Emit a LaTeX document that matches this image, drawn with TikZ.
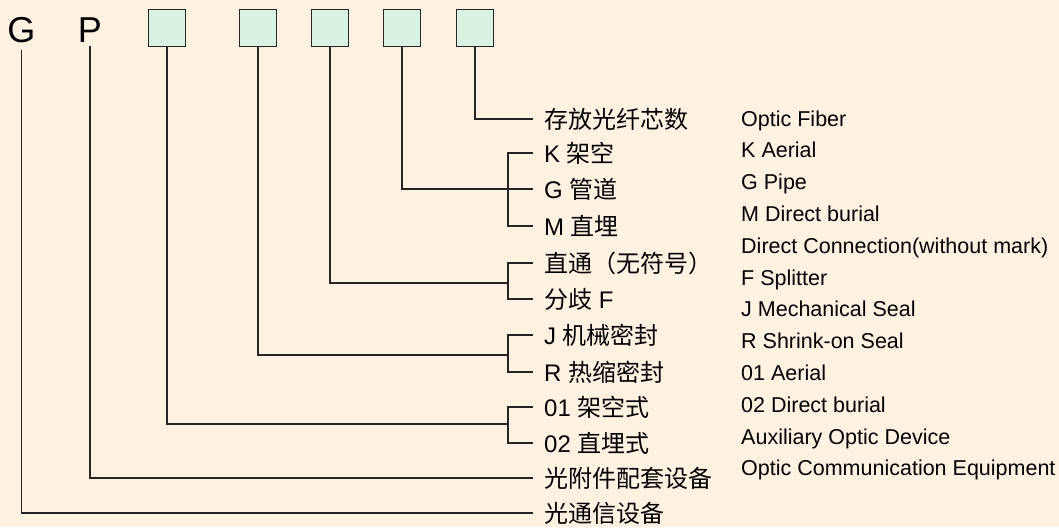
\documentclass[tikz,border=0pt]{standalone}
\usepackage{fontspec}
\setmainfont{Liberation Sans}
\newfontfamily\cjk{Noto Sans CJK SC}
\definecolor{cream}{HTML}{FFF2E1}
\definecolor{mint}{HTML}{DAF2E2}
\definecolor{ink}{HTML}{262626}

\begin{document}
\begin{tikzpicture}[
  x=1pt,y=-1pt,
  letter/.style={inner xsep=0pt,inner ysep=4pt,anchor=base,font=\fontsize{36}{40}\selectfont},
  codebox/.style={draw=ink,fill=mint,line width=1.2pt,minimum size=36.5pt,inner sep=0pt},
  cnlabel/.style={anchor=west,inner xsep=11pt,inner ysep=0pt,text height=21pt,text depth=3pt,font=\fontsize{24}{28}\selectfont},
  enlabel/.style={anchor=base west,inner sep=0pt,font=\fontsize{21.5}{26}\selectfont},
  link/.style={draw=ink,line width=1.3pt}
]
\useasboundingbox (0,0) rectangle (1059,527);
\fill[cream] (0,0) rectangle (1059,527);

% code letters and boxes
\node[letter] (G) at (21.5,42) {G};
\node[letter] (P) at (90,42) {P};
\node[codebox] (b1) at (167,28) {};
\node[codebox] (b2) at (258,28) {};
\node[codebox] (b3) at (330,28) {};
\node[codebox] (b4) at (402,28) {};
\node[codebox] (b5) at (475,28) {};

% chinese labels
\node[cnlabel] (fiber) at (533,119) {\cjk 存放光纤芯数};
\node[cnlabel] (kaer) at (533,153) {K {\cjk 架空}};
\node[cnlabel] (gpipe) at (533,189) {G {\cjk 管道}};
\node[cnlabel] (mbur) at (533,226) {M {\cjk 直埋}};
\node[cnlabel] (direct) at (533,263) {\cjk 直通（无符号）};
\node[cnlabel] (split) at (533,299) {{\cjk 分歧} F};
\node[cnlabel] (jseal) at (533,335) {J {\cjk 机械密封}};
\node[cnlabel] (rseal) at (533,372) {R {\cjk 热缩密封}};
\node[cnlabel] (aer01) at (533,407) {01 {\cjk 架空式}};
\node[cnlabel] (bur02) at (533,443) {02 {\cjk 直埋式}};
\node[cnlabel] (aux) at (533,478) {\cjk 光附件配套设备};
\node[cnlabel] (comm) at (533,513) {\cjk 光通信设备};

% english labels
\node[enlabel] (en1) at (741,126) {Optic Fiber};
\node[enlabel] (en2) at (741,157.8) {K Aerial};
\node[enlabel] (en3) at (741,189.6) {G Pipe};
\node[enlabel] (en4) at (741,221.4) {M Direct burial};
\node[enlabel] (en5) at (741,253.2) {Direct Connection(without mark)};
\node[enlabel] (en6) at (741,285) {F Splitter};
\node[enlabel] (en7) at (741,316.8) {J Mechanical Seal};
\node[enlabel] (en8) at (741,348.6) {R Shrink-on Seal};
\node[enlabel] (en9) at (741,380.4) {01 Aerial};
\node[enlabel] (en10) at (741,412.2) {02 Direct burial};
\node[enlabel] (en11) at (741,444) {Auxiliary Optic Device};
\node[enlabel] (en12) at (741,475.8) {Optic Communication Equipment};

% bracket joints
\coordinate (j4) at (508,189);
\coordinate (j3) at (508,283);
\coordinate (j2) at (508,355);
\coordinate (j1) at (508,424);

\draw[link] (b5.south) |- (fiber.west);
\draw[link] (b4.south) |- (gpipe.west);
\draw[link] (kaer.west) -| (j4) |- (mbur.west);
\draw[link] (b3.south) |- (j3);
\draw[link] (direct.west) -| (j3) |- (split.west);
\draw[link] (b2.south) |- (j2);
\draw[link] (jseal.west) -| (j2) |- (rseal.west);
\draw[link] (b1.south) |- (j1);
\draw[link] (aer01.west) -| (j1) |- (bur02.west);
\draw[link] (P.south) |- (aux.west);
\draw[link,shorten <=3pt] (G.south) |- (comm.west);
\end{tikzpicture}
\end{document}
